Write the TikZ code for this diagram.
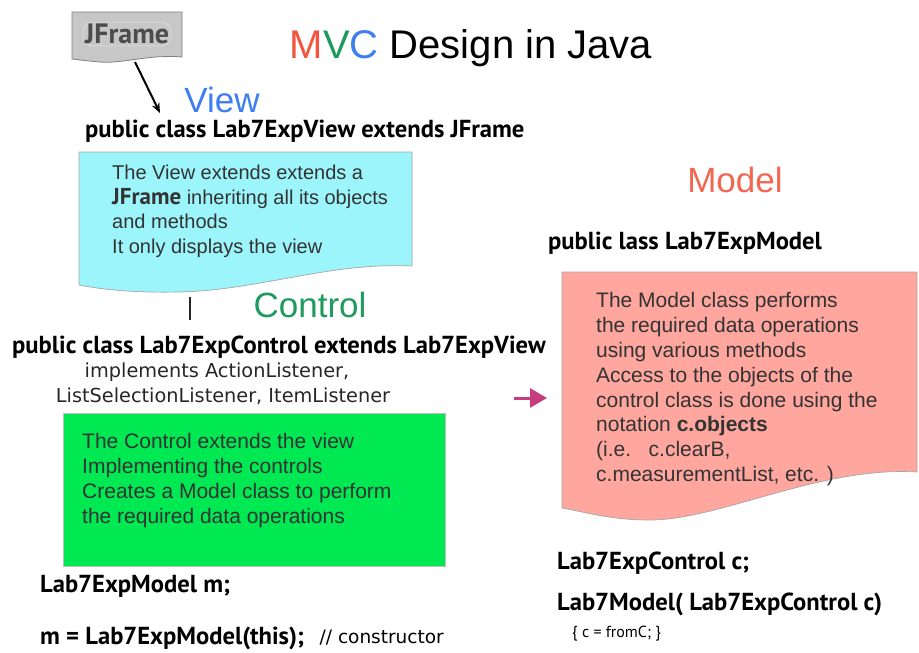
\documentclass[tikz,border=0pt]{standalone}
\usepackage{fontspec}
\setmainfont{Liberation Sans}
\newfontfamily\codefont{PT Sans}
\newfontfamily\notefont{DejaVu Sans}
\usetikzlibrary{positioning, arrows.meta}

\definecolor{viewcyan}{RGB}{155,245,250}
\definecolor{ctrlgreen}{RGB}{0,232,82}
\definecolor{modelpink}{RGB}{255,166,158}
\definecolor{mvcred}{RGB}{242,85,61}
\definecolor{mvcgreen}{RGB}{31,154,94}
\definecolor{mvcblue}{RGB}{63,126,242}
\definecolor{arrowpink}{RGB}{196,61,126}

\begin{document}
\begin{tikzpicture}[
    x=1pt, y=-1pt,
    title/.style={font=\fontsize{40}{46}\selectfont, inner sep=0pt},
    part/.style={font=\fontsize{35}{40}\selectfont, inner sep=0pt},
    code/.style={font=\codefont\bfseries\fontsize{24.6}{28}\selectfont, anchor=west, inner sep=0pt},
    implnote/.style={font=\notefont\fontsize{19.3}{24}\selectfont, text=black!85, inner sep=0pt},
    boxtext/.style={font=\fontsize{21}{24.9}\selectfont, text=black!80, align=left, anchor=north west, inner sep=0pt},
    docshape/.style={draw=black!35, line width=0.7pt},
    jarrow/.style={-{Stealth[length=10pt, width=8pt]}, line width=2pt, black}
]
\useasboundingbox (0,0) rectangle (919,653);

% Title
\node[title] (title) at (471,48)
    {\textcolor{mvcred}{M}\textcolor{mvcgreen}{V}\textcolor{mvcblue}{C} Design in Java};

%%%%%%%%%%%%%%%%%%%%%
% View
%%%%%%%%%%%%%%%%%%%%%
\path[fill=black!22, draw=black!50, line width=0.8pt]
    (72,12) -- (182,12) -- (182,57)
    .. controls (150,54) and (122,64) .. (100,62)
    .. controls (88,61) and (80,60) .. (72,59) -- cycle;
\node[draw=white!85!black, rounded corners=10pt, line width=1pt, inner sep=2pt,
      font=\codefont\bfseries\fontsize{28}{30}\selectfont, text=black!70] (jframe) at (127,34) {JFrame};
\coordinate (jfout) at (135,62);
\coordinate (jftip) at (160,113);
\draw[jarrow] (jfout) -- (jftip);

\node[part, text=mvcblue] (view) at (222,100) {View};
\node[code] (viewhdr) at (85,131) {public class Lab7ExpView extends JFrame};

\path[docshape, fill=viewcyan]
    (79,152) -- (412,152) -- (412,266)
    .. controls (330,262) and (260,290) .. (180,292)
    .. controls (130,293) and (100,289) .. (79,285) -- cycle;
\node[boxtext, font=\fontsize{20}{24.5}\selectfont] (viewtxt) at (112,165)
    {The View extends extends a\\
     {\codefont\bfseries\fontsize{23}{24}\selectfont JFrame} inheriting all its objects\\
     and methods\\
     It only displays the view};

\coordinate (viewout) at (190,297);
\coordinate (ctrlin) at (190,320);
\draw[line width=2.6pt, black!85] (viewout) -- (ctrlin);

%%%%%%%%%%%%%%%%%%%%%
% Control
%%%%%%%%%%%%%%%%%%%%%
\node[part, text=mvcgreen] (control) at (310,305) {Control};
\node[code] (ctrlhdr) at (12,347) {public class Lab7ExpControl extends Lab7ExpView};
\node[implnote] (impl1) at (217,372) {implements ActionListener,};
\node[implnote] (impl2) at (223,396) {ListSelectionListener, ItemListener};

\fill[ctrlgreen, draw=black!25, line width=0.6pt] (63,413) rectangle (445,566);
\node[boxtext] (ctrltxt) at (82,433)
    {The Control extends the view\\
     Implementing the controls\\
     Creates a Model class to perform\\
     the required data operations};

\node[code] (mdecl) at (40,586) {Lab7ExpModel m;};
\node[code] (mnew) at (40,638) {m = Lab7ExpModel(this);};
\node[font=\notefont\fontsize{18.5}{20}\selectfont, anchor=west, inner sep=0pt, right=15pt of mnew] (ctor) {// constructor};

\coordinate (ctrlout) at (514,398);
\coordinate (modelin) at (547,398);
\draw[-{Triangle[length=17pt, width=19pt]}, line width=3pt, arrowpink] (ctrlout) -- (modelin);

%%%%%%%%%%%%%%%%%%%%%
% Model
%%%%%%%%%%%%%%%%%%%%%
\node[part, text=mvcred!90!white] (model) at (735,180) {Model};
\node[code] (modelhdr) at (548,243) {public lass Lab7ExpModel};

\path[docshape, fill=modelpink]
    (562,272) -- (917,272) -- (917,472)
    .. controls (820,466) and (720,520) .. (650,520)
    .. controls (610,520) and (585,512) .. (562,508) -- cycle;
\node[boxtext] (modeltxt) at (596,292)
    {The Model class performs\\
     the required data operations\\
     using various methods\\
     Access to the objects of the\\
     control class is done using the\\
     notation \textbf{c.objects}\\
     (i.e.\ \ \ c.clearB,\\
     c.measurementList, etc. )};

\node[code] (cdecl) at (557,563) {Lab7ExpControl c;};
\node[code] (mctor) at (557,604) {Lab7Model( Lab7ExpControl c)};
\node[font=\codefont\fontsize{16}{18}\selectfont, anchor=west, inner sep=0pt] (cbody) at (572,634) {\{ c = fromC; \}};

\end{tikzpicture}
\end{document}
